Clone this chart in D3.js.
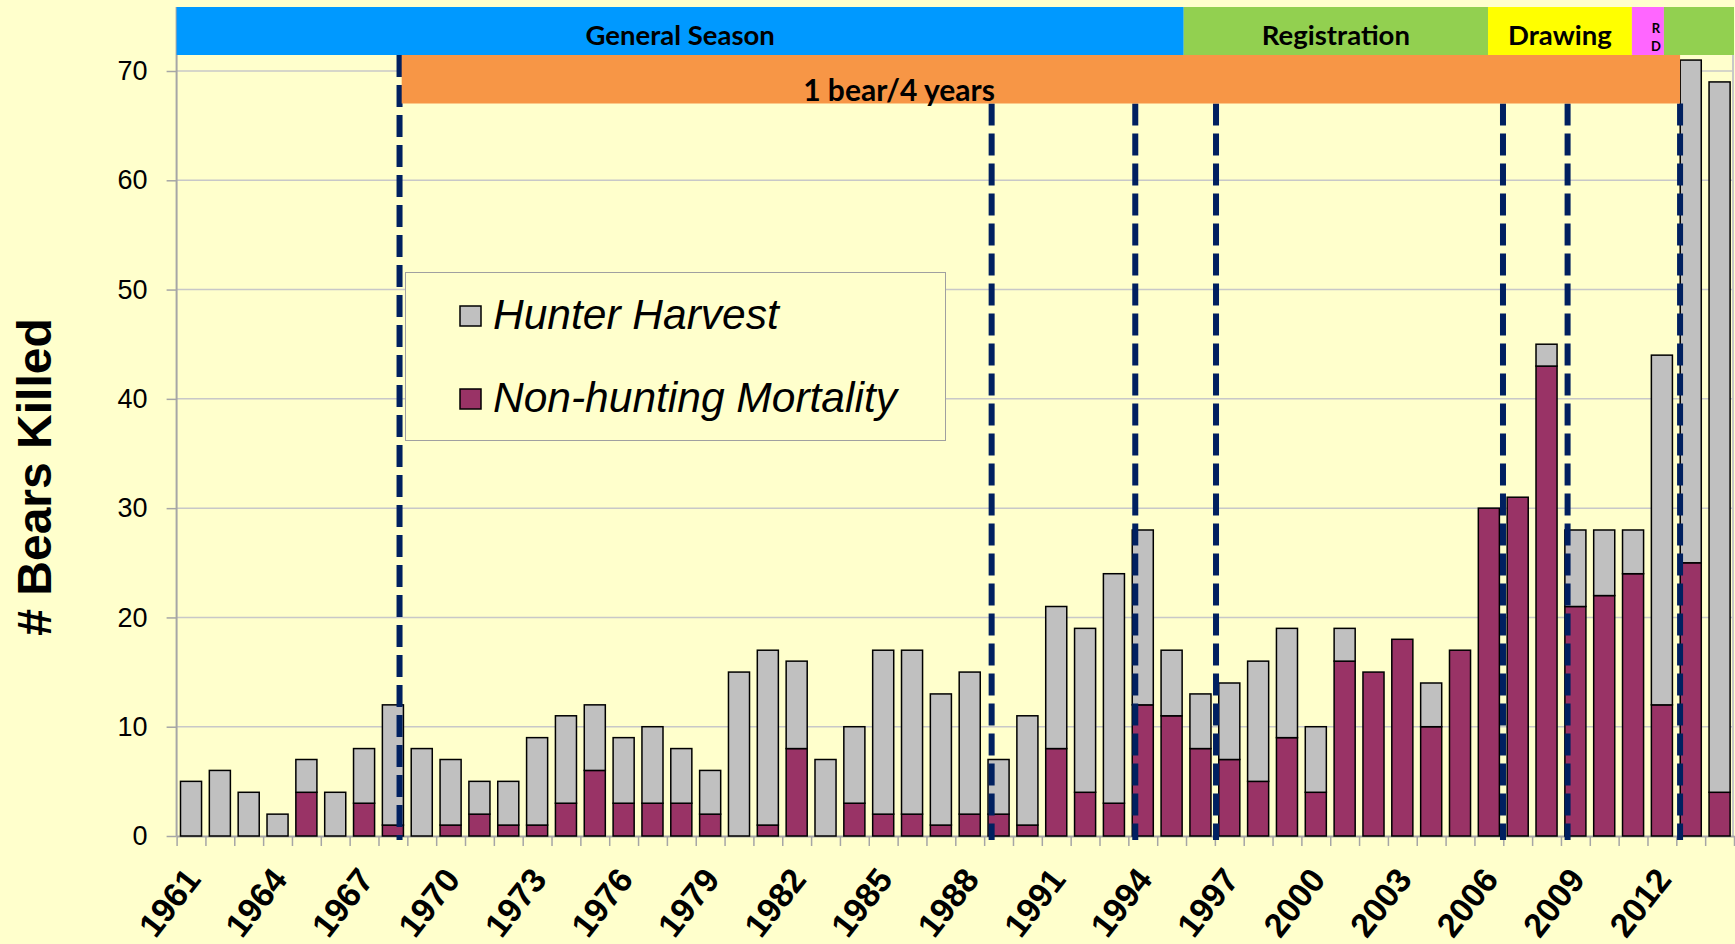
<!DOCTYPE html>
<html>
<head>
<meta charset="utf-8">
<script src="https://cdn.jsdelivr.net/npm/d3@7"></script>
<style>
  html, body { margin: 0; padding: 0; background: #FFFFCC; }
  svg { display: block; }
</style>
</head>
<body>
<div id="chart"></div>
<script>
// ---- data ----
var years = [1961, 1962, 1963, 1964, 1965, 1966, 1967, 1968, 1969, 1970,
    1971, 1972, 1973, 1974, 1975, 1976, 1977, 1978, 1979, 1980,
    1981, 1982, 1983, 1984, 1985, 1986, 1987, 1988, 1989, 1990,
    1991, 1992, 1993, 1994, 1995, 1996, 1997, 1998, 1999, 2000,
    2001, 2002, 2003, 2004, 2005, 2006, 2007, 2008, 2009, 2010,
    2011, 2012, 2013, 2014];

var nonHunting = [0, 0, 0, 0, 4, 0, 3, 1, 0, 1,
    2, 1, 1, 3, 6, 3, 3, 3, 2, 0,
    1, 8, 0, 3, 2, 2, 1, 2, 2, 1,
    8, 4, 3, 12, 11, 8, 7, 5, 9, 4,
    16, 15, 18, 10, 17, 30, 31, 43, 21, 22,
    24, 12, 25, 4];

var hunterHarvest = [5, 6, 4, 2, 3, 4, 5, 11, 8, 6,
    3, 4, 8, 8, 6, 6, 7, 5, 4, 15,
    16, 8, 7, 7, 15, 15, 12, 13, 5, 10,
    13, 15, 21, 16, 6, 5, 7, 11, 10, 6,
    3, 0, 0, 4, 0, 0, 0, 2, 7, 6,
    4, 32, 46, 65];

var labelYears = [1961, 1964, 1967, 1970, 1973, 1976, 1979, 1982, 1985, 1988,
    1991, 1994, 1997, 2000, 2003, 2006, 2009, 2012];

var yTicks = [0, 10, 20, 30, 40, 50, 60, 70];

var seriesNames = ["Hunter Harvest", "Non-hunting Mortality"];

// season periods (in year units, x.5 = between two bars)
var periodNames = ["General Season", "Registration", "Drawing", "RD", ""];
var periodStart = [1960.5, 1995.42, 2005.97, 2010.96, 2012.07];
var periodEnd = [1995.42, 2005.97, 2010.96, 2012.07, 2014.5];

var bagLabel = "1 bear/4 years";
var bagStart = 1968.27, bagEnd = 2012.63;

// regulation changes (dashed lines)
var changeYears = [1968.23, 1988.76, 1993.74, 1996.54, 2006.49, 2008.73, 2012.63];

// ---- layout ----
var width = 1735, height = 944;
var left = 176.6, right = 1734;
var bandTop = 7, bandMid = 55, bandBottom = 103.5;

var colors = {
    bg: "#FFFFCC",
    harvest: "#C0C0C0",
    mortality: "#993366",
    grid: "#C8C8C8",
    axis: "#A6A6A6",
    dash: "#002060",
    bag: "#F79646"
};
var periodColors = ["#0099FF", "#92D050", "#FFFF00", "#FF66FF", "#92D050"];

var svg = d3.select("#chart")
    .append("svg")
    .attr("width", width)
    .attr("height", height)
    .style("background", colors.bg);

var x = d3.scaleBand()
    .domain(years)
    .range([left, right])
    .paddingInner(0.27)
    .paddingOuter(0.135);

// continuous year scale, used for the bands and dashed lines
var xYear = d3.scaleLinear()
    .domain([1960.5, 2014.5])
    .range([left, right]);

var y = d3.scaleLinear()
    .domain([0, 70])
    .range([836, 71]);

var rows = years.map(function(yr, i) {
    return { year: yr, nonHunting: nonHunting[i], hunterHarvest: hunterHarvest[i] };
});

var stacked = d3.stack().keys(["nonHunting", "hunterHarvest"])(rows);

// gridlines
svg.append("g")
    .selectAll("line")
    .data(yTicks.filter(d => d > 0))
    .join("line")
    .attr("x1", left)
    .attr("x2", right)
    .attr("y1", d => y(d))
    .attr("y2", d => y(d))
    .attr("stroke", colors.grid)
    .attr("stroke-width", 1.5);

// y axis line runs up under the top band, plus right border
svg.append("line")
    .attr("x1", left).attr("x2", left)
    .attr("y1", bandTop).attr("y2", y(0))
    .attr("stroke", colors.axis)
    .attr("stroke-width", 2);
svg.append("line")
    .attr("x1", right - 1).attr("x2", right - 1)
    .attr("y1", bandTop).attr("y2", y(0))
    .attr("stroke", colors.grid)
    .attr("stroke-width", 2);

// y axis
var yAxis = svg.append("g")
    .attr("transform", `translate(${left},0)`)
    .call(d3.axisLeft(y).tickValues(yTicks).tickSize(10).tickPadding(19));
yAxis.select(".domain").remove();
yAxis.selectAll(".tick line").attr("stroke", colors.axis).attr("stroke-width", 1.5);
yAxis.selectAll("text")
    .attr("fill", "#000")
    .style("font", "27px 'Liberation Sans', Arial, sans-serif");

// x axis: ticks at category boundaries
var boundaries = years.map(d => d - 0.5).concat([2014.5]);
var xAxis = svg.append("g")
    .attr("transform", `translate(0,${y(0)})`)
    .call(d3.axisBottom(xYear).tickValues(boundaries).tickFormat("").tickSize(10).tickSizeOuter(0));
xAxis.select(".domain").attr("stroke", colors.axis).attr("stroke-width", 2);
xAxis.selectAll(".tick line").attr("stroke", colors.axis).attr("stroke-width", 1.5);

// year labels, every third year
svg.append("g")
    .selectAll("text")
    .data(labelYears)
    .join("text")
    .attr("transform", d => `translate(${x(d) + x.bandwidth() / 2 + 11},880) rotate(-52)`)
    .attr("text-anchor", "end")
    .style("font", "bold 34px 'Liberation Sans', Arial, sans-serif")
    .text(d => d);

// stacked bars
svg.append("g")
    .selectAll("g")
    .data(stacked)
    .join("g")
    .attr("fill", d => d.key == "nonHunting" ? colors.mortality : colors.harvest)
    .selectAll("rect")
    .data(d => d.filter(s => s[1] - s[0] > 0))
    .join("rect")
    .attr("x", d => x(d.data.year))
    .attr("width", x.bandwidth())
    .attr("y", d => y(d[1]))
    .attr("height", d => y(d[0]) - y(d[1]))
    .attr("stroke", "#000")
    .attr("stroke-width", 1.5);

// season bands across the top
var periods = periodNames.map((n, i) => ({ name: n, start: periodStart[i], end: periodEnd[i], color: periodColors[i] }));

svg.append("g")
    .selectAll("rect")
    .data(periods)
    .join("rect")
    .attr("x", d => xYear(d.start))
    .attr("width", d => xYear(d.end) - xYear(d.start))
    .attr("y", bandTop)
    .attr("height", bandMid - bandTop)
    .attr("fill", d => d.color);

svg.append("g")
    .selectAll("text")
    .data(periods.filter(d => d.name.length > 2))
    .join("text")
    .attr("x", d => (xYear(d.start) + xYear(d.end)) / 2)
    .attr("y", 45)
    .attr("text-anchor", "middle")
    .style("font", "bold 27.5px Lato, 'Open Sans', sans-serif")
    .text(d => d.name);

// the tiny R / D label in the pink band
var rd = periods[3];
svg.append("g")
    .selectAll("text")
    .data(rd.name.split(""))
    .join("text")
    .attr("x", (xYear(rd.start) + xYear(rd.end)) / 2 + 8)
    .attr("y", (d, i) => 33 + i * 18)
    .attr("text-anchor", "middle")
    .style("font", "bold 13px Lato, 'Open Sans', sans-serif")
    .text(d => d);

// dashed regulation lines (drawn under the orange bar, except where they sit left of it)
svg.append("g")
    .selectAll("line")
    .data(changeYears)
    .join("line")
    .attr("x1", d => xYear(d))
    .attr("x2", d => xYear(d))
    .attr("y1", d => d < bagStart + 0.2 ? bandMid : bandBottom)
    .attr("y2", y(0) + 4)
    .attr("stroke", colors.dash)
    .attr("stroke-width", 6)
    .attr("stroke-dasharray", "22,8");

// orange bag-limit band
svg.append("rect")
    .attr("x", xYear(bagStart) + 1)
    .attr("width", xYear(bagEnd) - xYear(bagStart) - 1)
    .attr("y", bandMid)
    .attr("height", bandBottom - bandMid)
    .attr("fill", colors.bag);

svg.append("text")
    .attr("x", xYear(1985.55))
    .attr("y", 101)
    .attr("text-anchor", "middle")
    .style("font", "bold 30px Lato, 'Open Sans', sans-serif")
    .text(bagLabel);

// y axis title
svg.append("text")
    .attr("transform", "translate(51,477) rotate(-90)")
    .attr("text-anchor", "middle")
    .style("font", "bold 48px 'Liberation Sans', Arial, sans-serif")
    .text("# Bears Killed");

// legend
var legend = svg.append("g");
legend.append("rect")
    .attr("x", 405.5)
    .attr("y", 272.5)
    .attr("width", 540)
    .attr("height", 168)
    .attr("fill", colors.bg)
    .attr("stroke", "#A0A0A0")
    .attr("stroke-width", 1);

var legendItems = legend.selectAll("g")
    .data(seriesNames)
    .join("g")
    .attr("transform", (d, i) => `translate(460,${306 + i * 83})`);

legendItems.append("rect")
    .attr("width", 21)
    .attr("height", 20)
    .attr("fill", (d, i) => i == 0 ? colors.harvest : colors.mortality)
    .attr("stroke", "#000")
    .attr("stroke-width", 1.5);

legendItems.append("text")
    .attr("x", 33)
    .attr("y", 23)
    .style("font", "italic 42.5px 'Liberation Sans', Arial, sans-serif")
    .text(d => d);
</script>
</body>
</html>
